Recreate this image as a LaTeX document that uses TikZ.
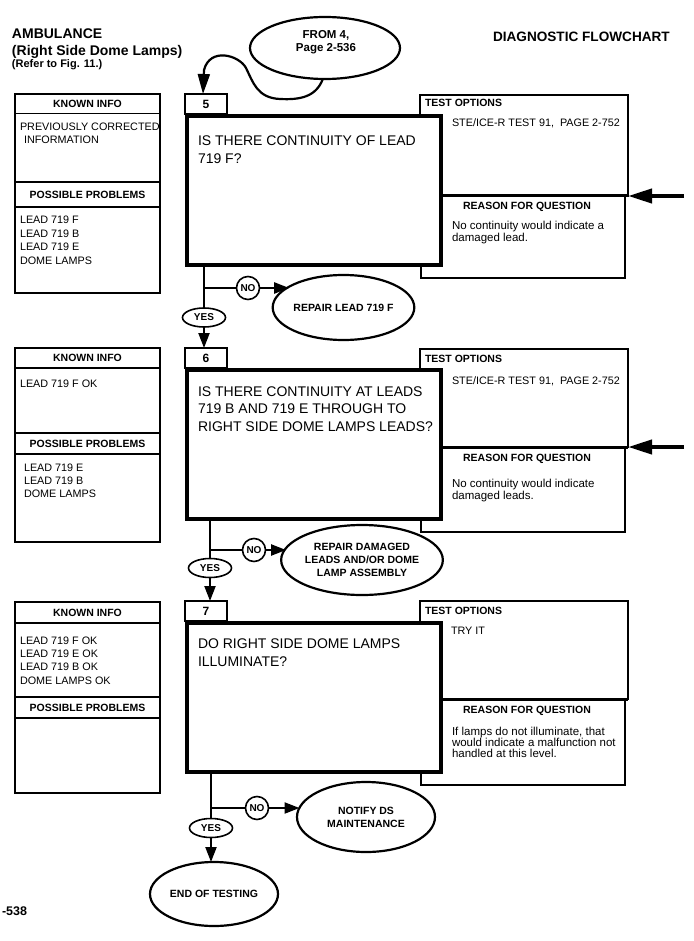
\documentclass[tikz,border=0pt]{standalone}
\usepackage{fontspec}
\setmainfont{Liberation Sans}
\usetikzlibrary{shapes.geometric,arrows.meta}
\begin{document}
\begin{tikzpicture}[x=1pt,y=-1pt,
 every node/.style={outer sep=0pt},
 thinbox/.style={draw, line width=1.5pt, inner sep=0pt, anchor=north west},
 tbox/.style={draw, line width=2pt, inner sep=0pt, anchor=north west},
 kbox/.style={draw, line width=1.6pt, inner sep=0pt, anchor=north west, minimum width=145pt},
 qbox/.style={draw, line width=4pt, fill=white, inner sep=0pt, minimum width=254pt, minimum height=149pt},
 lbox/.style={draw, line width=1.6pt, fill=white, inner sep=0pt, minimum width=42pt, minimum height=20pt, font=\bfseries\fontsize{12}{12}\selectfont},
 hb/.style={inner sep=0pt, font=\bfseries\fontsize{10.5}{12}\selectfont},
 sm/.style={inner sep=0pt, anchor=base west, font=\fontsize{10.8}{12}\selectfont},
 rs/.style={inner sep=0pt, anchor=base west, font=\fontsize{11.5}{12}\selectfont},
 qt/.style={inner sep=0pt, anchor=base west, font=\fontsize{14}{16}\selectfont},
 oval/.style={draw, ellipse, line width=2.2pt, inner sep=0pt, align=center, font=\bfseries\fontsize{10.5}{13}\selectfont},
 yesov/.style={draw, ellipse, line width=1.6pt, inner sep=0pt, minimum width=43pt, minimum height=19pt, font=\bfseries\fontsize{10}{10}\selectfont},
 nocirc/.style={draw, circle, line width=1.6pt, inner sep=0pt, minimum size=23pt, font=\bfseries\fontsize{10}{10}\selectfont},
 divline/.style={line width=3pt},
 flow/.style={line width=2.2pt},
 arr/.style={line width=2.2pt, -{Triangle[length=15pt,width=11pt]}},
 bigarr/.style={line width=4pt, -{Triangle[length=24pt,width=14pt]}},
 title/.style={inner sep=0pt, anchor=base west, font=\bfseries\fontsize{14}{16}\selectfont},
]
\useasboundingbox (0,0) rectangle (693,941);

% ---------- header ----------
\node[title] (amb) at (12,38.5) {AMBULANCE};
\node[title] (rsd) at (12,56) {(Right Side Dome Lamps)};
\node[title, font=\bfseries\fontsize{11}{12}\selectfont] (ref) at (12,67.5) {(Refer to Fig. 11.)};
\node[title, font=\bfseries\fontsize{13.6}{16}\selectfont] (diag) at (493,42) {DIAGNOSTIC FLOWCHART};
\node[oval, minimum width=150pt, minimum height=62pt] (from) at (325,48) {};
\node[hb, anchor=base, font=\bfseries\fontsize{11.5}{12}\selectfont] (from1) at (326,39) {FROM 4,};
\node[hb, anchor=base, font=\bfseries\fontsize{11.5}{12}\selectfont] (from2) at (326,51.5) {Page 2-536};

% ---------- section 5 ----------
\node[kbox, minimum height=199pt] (kb5) at (15,94) {};
\draw[line width=1.6pt] (15,113.5) -- (160,113.5) (15,182) -- (160,182) (15,207) -- (160,207);
\node[hb] (ki5) at (87.5,104) {KNOWN INFO};
\node[sm] (k5a) at (20,131) {PREVIOUSLY CORRECTED};
\node[sm] (k5b) at (24,144) {INFORMATION};
\node[hb] (pp5) at (87.5,195) {POSSIBLE PROBLEMS};
\node[sm] (p5a) at (20,224) {LEAD 719 F};
\node[sm] (p5b) at (20,237.5) {LEAD 719 B};
\node[sm] (p5c) at (20,251) {LEAD 719 E};
\node[sm] (p5d) at (20,264.5) {DOME LAMPS};

\node[tbox, minimum width=208pt, minimum height=101pt] (to5) at (420,95) {};
\node[thinbox, minimum width=204pt, minimum height=82pt] (rq5) at (421,196) {};
\draw[divline] (443,196) -- (to5.south east);
\node[qbox] (q5) at (314,190.5) {};
\node[lbox] (l5) at (206,104) {5};
\node[hb, anchor=base west] (to5t) at (425,107) {TEST OPTIONS};
\node[sm] (to5a) at (452,127) {STE/ICE-R TEST 91,\ \ PAGE 2-752};
\node[hb] (rq5t) at (527,207) {REASON FOR QUESTION};
\node[rs] (rq5a) at (452,229.5) {No continuity would indicate a};
\node[rs] (rq5b) at (452,241) {damaged lead.};
\node[qt] (q5a) at (198,146) {IS THERE CONTINUITY OF LEAD};
\node[qt] (q5b) at (198,164) {719 F?};
\coordinate (in5) at (684,196);
\draw[bigarr] (in5) -- (to5.south east);

\draw[flow, -{Triangle[length=20pt,width=12pt]}] (from.266) .. controls (316,97) and (300,100) .. (280,99)
  .. controls (257,98) and (253,82) .. (246,68) .. controls (239,55) and (210,47) .. (204,70)
  -- ([xshift=-3pt]l5.north);

\node[yesov] (y5) at (204,317.5) {YES};
\node[nocirc] (n5) at (248,288) {NO};
\node[oval, minimum width=129pt, minimum height=65pt] (r5) at (343.5,307.5) {REPAIR LEAD 719 F};
\coordinate (j5) at (204,288);
\draw[flow] (q5.south -| y5) -- (y5.north);
\draw[flow] (j5) -- (n5.west);
\draw[arr] (n5.east) -- (n5.east -| r5.159);

% ---------- section 6 ----------
\node[kbox, minimum height=194pt] (kb6) at (15,348) {};
\draw[line width=1.6pt] (15,368) -- (160,368) (15,433) -- (160,433) (15,454) -- (160,454);
\node[hb] (ki6) at (87.5,358) {KNOWN INFO};
\node[sm] (k6a) at (20,387) {LEAD 719 F OK};
\node[hb] (pp6) at (87.5,444) {POSSIBLE PROBLEMS};
\node[sm] (p6a) at (24,471) {LEAD 719 E};
\node[sm] (p6b) at (24,484) {LEAD 719 B};
\node[sm] (p6c) at (24,497) {DOME LAMPS};

\node[tbox, minimum width=208pt, minimum height=98pt] (to6) at (420,349) {};
\node[thinbox, minimum width=204pt, minimum height=85pt] (rq6) at (421,447) {};
\draw[divline] (443,447) -- (to6.south east);
\node[qbox] (q6) at (314,444.5) {};
\node[lbox] (l6) at (206,358) {6};
\node[hb, anchor=base west] (to6t) at (425,362) {TEST OPTIONS};
\node[sm] (to6a) at (452,384) {STE/ICE-R TEST 91,\ \ PAGE 2-752};
\node[hb] (rq6t) at (527,459) {REASON FOR QUESTION};
\node[rs] (rq6a) at (452,487) {No continuity would indicate};
\node[rs] (rq6b) at (452,499) {damaged leads.};
\node[qt] (q6a) at (198,396) {IS THERE CONTINUITY AT LEADS};
\node[qt] (q6b) at (198,413.5) {719 B AND 719 E THROUGH TO};
\node[qt] (q6c) at (198,431) {RIGHT SIDE DOME LAMPS LEADS?};
\coordinate (in6) at (684,447);
\draw[bigarr] (in6) -- (to6.south east);

\draw[arr] (y5.south) -- (y5.south |- l6.north);

\node[yesov] (y6) at (210,568) {YES};
\node[nocirc] (n6) at (254,550) {NO};
\node[oval, minimum width=136pt, minimum height=70pt] (r6) at (362,560) {REPAIR DAMAGED\\LEADS AND/OR DOME\\LAMP ASSEMBLY};
\coordinate (j6) at (210,550);
\draw[flow] (q6.south -| y6) -- (y6.north);
\draw[flow] (j6) -- (n6.west);
\draw[arr] (n6.east) -- (n6.east -| r6.171);

% ---------- section 7 ----------
\node[kbox, minimum height=191pt] (kb7) at (15,602) {};
\draw[line width=1.6pt] (15,623) -- (160,623) (15,697) -- (160,697) (15,718) -- (160,718);
\node[hb] (ki7) at (87.5,612.5) {KNOWN INFO};
\node[sm] (k7a) at (20,644) {LEAD 719 F OK};
\node[sm] (k7b) at (20,657) {LEAD 719 E OK};
\node[sm] (k7c) at (20,670) {LEAD 719 B OK};
\node[sm] (k7d) at (20,684) {DOME LAMPS OK};
\node[hb] (pp7) at (87.5,708) {POSSIBLE PROBLEMS};

\node[tbox, minimum width=208pt, minimum height=98pt] (to7) at (420,601) {};
\node[thinbox, minimum width=204pt, minimum height=86pt] (rq7) at (421,699) {};
\draw[divline] (443,699) -- (to7.south east);
\node[qbox] (q7) at (314,697.5) {};
\node[lbox] (l7) at (206,611) {7};
\node[hb, anchor=base west] (to7t) at (425,614) {TEST OPTIONS};
\node[sm] (to7a) at (451,634) {TRY IT};
\node[hb] (rq7t) at (527,711) {REASON FOR QUESTION};
\node[rs] (rq7a) at (452,735) {If lamps do not illuminate, that};
\node[rs] (rq7b) at (452,746) {would indicate a malfunction not};
\node[rs] (rq7c) at (452,757) {handled at this level.};
\node[qt] (q7a) at (198,648) {DO RIGHT SIDE DOME LAMPS};
\node[qt] (q7b) at (198,666) {ILLUMINATE?};

\draw[arr] (y6.south) -- (y6.south |- l7.north);

\node[yesov] (y7) at (211,828) {YES};
\node[nocirc] (n7) at (257,808) {NO};
\node[oval, minimum width=138pt, minimum height=70pt] (nt) at (366,817) {NOTIFY DS\\MAINTENANCE};
\node[oval, minimum width=128pt, minimum height=64pt] (fin) at (214,894) {END OF TESTING};
\coordinate (j7) at (211,808);
\draw[flow] (q7.south -| y7) -- (y7.north);
\draw[flow] (j7) -- (n7.west);
\draw[arr] (n7.east) -- (n7.east -| nt.172);
\draw[arr] (y7.south) -- (y7.south |- fin.north);

% page number
\node[title, font=\bfseries\fontsize{12.5}{14}\selectfont] (pg) at (2,915) {-538};
\end{tikzpicture}
\end{document}
